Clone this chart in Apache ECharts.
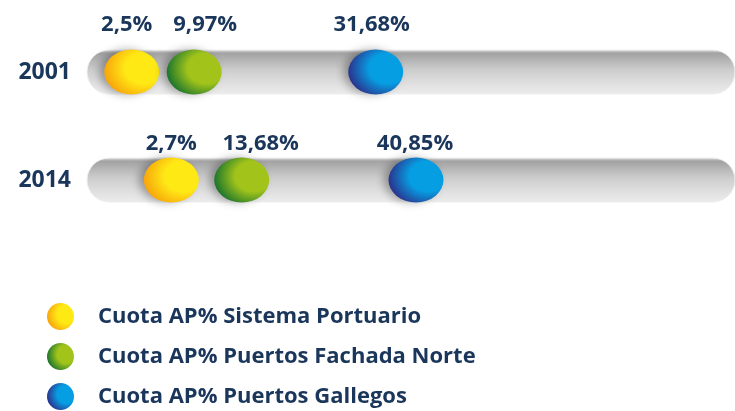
<!DOCTYPE html>
<html>
<head>
<meta charset="utf-8">
<script src="https://cdn.jsdelivr.net/npm/echarts@6/dist/echarts.min.js"></script>
<style>
  html, body { margin: 0; padding: 0; background: #fff; }
  #chart { width: 735px; height: 411px; }
</style>
</head>
<body>
<div id="chart"></div>
<script>
const years = ['2001', '2014']
const seriesNames = [
    'Cuota AP% Sistema Portuario',
    'Cuota AP% Puertos Fachada Norte',
    'Cuota AP% Puertos Gallegos'
]
const cuota2001 = [2.5, 9.97, 31.68]
const cuota2014 = [2.7, 13.68, 40.85]

const navy = '#1a365b'
const font = '"Open Sans", "Noto Sans", sans-serif'

// light / dark tones of each ball
const ballColors = [
    ['#ffe915', '#f7a10a'],
    ['#a2c41a', '#13702e'],
    ['#069ee2', '#2d2c88']
]

function ballGradient(c) {
    return new echarts.graphic.RadialGradient(0.72, 0.42, 0.75, [
        { offset: 0, color: c[0] },
        { offset: 0.45, color: c[0] },
        { offset: 1, color: c[1] }
    ])
}

function fmt(v) {
    return String(v).replace('.', ',') + '%'
}

// the picture spaces each row on its own scale, so each row gets its own x axis
const rows = [cuota2001, cuota2014]
const labelDistance = [14, 3]
const labelShift = [[-5, 11, -4], [0, 19, -1]]

let series = [
    {
        type: 'bar',
        xAxisIndex: 0,
        data: [0, 0],
        barWidth: 44,
        silent: true,
        showBackground: true,
        backgroundStyle: {
            borderRadius: 22,
            borderColor: '#eeeeee',
            borderWidth: 1,
            color: new echarts.graphic.LinearGradient(0, 0, 0, 1, [
                { offset: 0, color: '#e6e6e6' },
                { offset: 0.08, color: '#a2a2a2' },
                { offset: 0.45, color: '#cdcdcd' },
                { offset: 0.8, color: '#e2e2e2' },
                { offset: 1, color: '#ececec' }
            ])
        }
    }
]

rows.forEach((vals, r) => {
    vals.forEach((v, c) => {
        series.push({
            type: 'scatter',
            name: seriesNames[c],
            xAxisIndex: r,
            symbol: 'circle',
            symbolSize: [55, 45],
            z: 3,
            data: [[v, years[r]]],
            itemStyle: {
                opacity: 1,
                color: ballGradient(ballColors[c]),
                shadowColor: 'rgba(0,0,0,0.3)',
                shadowBlur: 8,
                shadowOffsetX: -5
            },
            label: {
                show: true,
                position: 'top',
                distance: labelDistance[r],
                offset: [labelShift[r][c], 0],
                formatter: p => fmt(p.value[0]),
                color: navy,
                opacity: 1,
                fontFamily: font,
                fontWeight: 'bold',
                fontSize: 22
            }
        })
    })
})

const chart = echarts.init(document.getElementById('chart'))

chart.setOption({
    animation: false,
    grid: { left: 87, right: 0, top: 18, bottom: 177 },
    xAxis: [
        { type: 'value', position: 'bottom', min: -2.85, max: 74.65, show: false },
        { type: 'value', position: 'top', min: -10.44, max: 90.58, show: false }
    ],
    yAxis: {
        type: 'category',
        data: years,
        inverse: true,
        axisLine: { show: false },
        axisTick: { show: false },
        splitLine: { show: false },
        axisLabel: {
            margin: 16,
            color: navy,
            fontFamily: font,
            fontWeight: 'bold',
            fontSize: 23
        }
    },
    legend: {
        data: seriesNames,
        orient: 'vertical',
        left: 47,
        top: 303,
        padding: 0,
        icon: 'circle',
        itemWidth: 27,
        itemHeight: 27,
        itemGap: 13,
        textStyle: {
            color: navy,
            fontFamily: font,
            fontWeight: 'bold',
            fontSize: 22,
            padding: [0, 0, 0, 19]
        }
    },
    series: series
})
</script>
</body>
</html>
